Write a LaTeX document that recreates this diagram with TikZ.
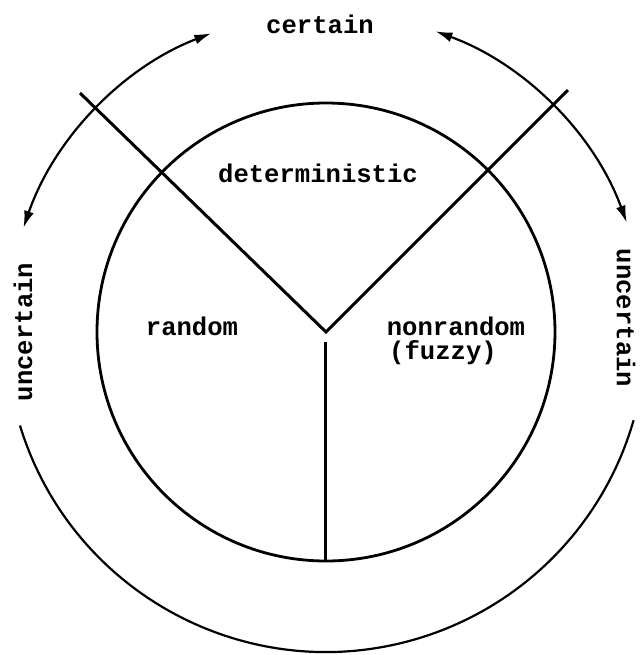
\documentclass[tikz,border=0pt]{standalone}
\usepackage{fontspec}
\setmonofont{Liberation Mono}
\usepackage{tikz}
\usetikzlibrary{arrows.meta,positioning}

\begin{document}
\begin{tikzpicture}[x=0.5pt, y=0.5pt,
      lbl/.style={font=\fontsize{12.8}{14}\ttfamily\bfseries, inner sep=1pt},
      ring/.style={line width=1.4pt},
      band/.style={line width=1.1pt},
      arr/.style={band, {Latex[length=8.5pt,width=5pt]}-{Latex[length=8.5pt,width=5pt]}},
      cut/.style={line width=1.5pt}
  ]
    \useasboundingbox (-326,-323) rectangle (314,332);
    % centre and ends of the three dividing lines
    \coordinate (o)  at (0,0);
    \coordinate (tl) at (-246,239);
    \coordinate (tr) at (242,242);
    \coordinate (vt) at (0,-10);
    \coordinate (vb) at (0,-229);
    % inner circle
    \draw[ring] (o) circle (229);
    \draw[cut] (tl)--(o)--(tr);
    \draw[cut] (vt)--(vb);
    % outer arcs
    \draw[arr] (111:320) arc (111:161:320);
    \draw[arr] (70:320) arc (70:20:320);
    \draw[band] (197:320) arc (197:344:320);
    % labels
    \node[lbl] (cert)  at (-6,308)  {certain};
    \node[lbl] (det)   at (-8,159)  {deterministic};
    \node[lbl] (rand)  at (-134,6)  {random};
    \node[lbl] (nonr)  at (130,6)   {nonrandom};
    \node[lbl] (fuzzy) at (117,-21) {(fuzzy)};
    \node[lbl, rotate=90]  (uncl) at (-303,0) {uncertain};
    \node[lbl, rotate=-90] (uncr) at (300,14) {uncertain};
  \end{tikzpicture}
\end{document}
